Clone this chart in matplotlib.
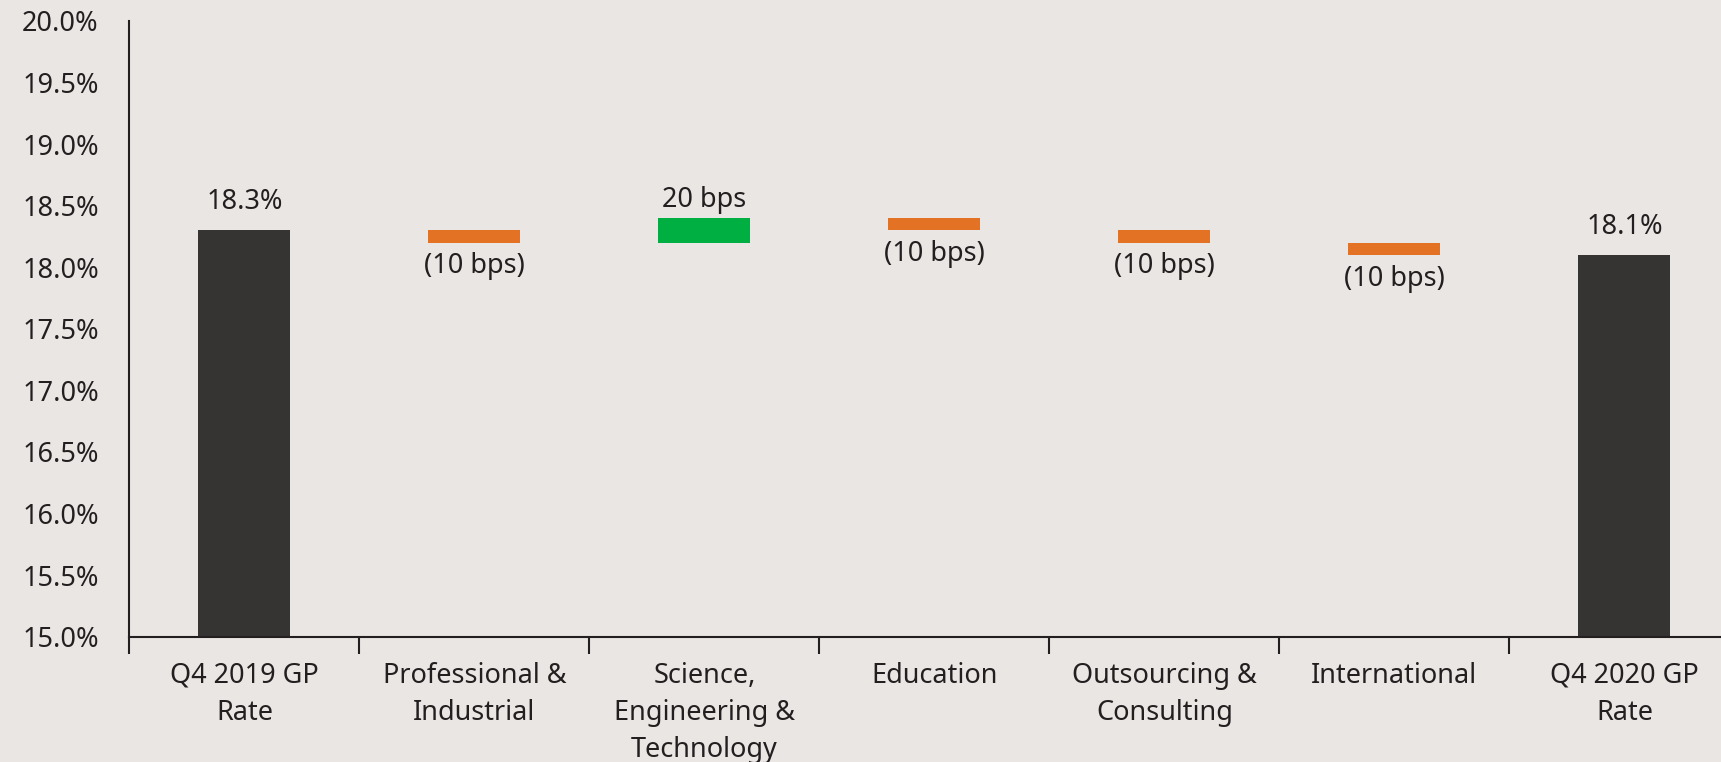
import matplotlib.pyplot as plt
import numpy as np

# Data
categories = ["Q4 2019 GP\nRate", "Professional &\nIndustrial", "Science,\nEngineering &\nTechnology",
              "Education", "Outsourcing &\nConsulting", "International", "Q4 2020 GP\nRate"]
start_rate = 18.3
end_rate = 18.1
deltas_bps = np.array([-10, 20, -10, -10, -10])

bg = "#E9E6E3"
dark = "#353432"
orange = "#E37224"
green = "#00AF41"
txt = "#231F20"
fs = 19.5

plt.rcParams['font.family'] = ['Noto Sans', 'DejaVu Sans']

fig = plt.figure(figsize=(17.21, 7.62), dpi=100, facecolor=bg)
ax = fig.add_axes([0.0752, 0.1646, 0.9355, 0.808])
ax.set_facecolor(bg)

x = np.arange(len(categories))
w = 0.4

# start / end bars
ax.bar([x[0], x[-1]], [start_rate, end_rate], width=w, color=dark, bottom=0, zorder=2)
for xi, v in [(x[0], start_rate), (x[-1], end_rate)]:
    ax.annotate(f"{v:.1f}%", (xi, v), xytext=(0, 10), textcoords="offset points",
                ha="center", va="bottom", fontsize=fs, color=txt)

# floating delta bars
level = start_rate
for i, d in enumerate(deltas_bps):
    xi = x[i + 1]
    change = d / 100
    lo = min(level, level + change)
    color = green if d > 0 else orange
    ax.bar(xi, abs(change), bottom=lo, width=w, color=color, zorder=2)
    if d > 0:
        ax.annotate(f"{d} bps", (xi, lo + abs(change)), xytext=(0, 3), textcoords="offset points",
                    ha="center", va="bottom", fontsize=fs, color=txt)
    else:
        ax.annotate(f"({abs(d)} bps)", (xi, lo), xytext=(0, -7), textcoords="offset points",
                    ha="center", va="top", fontsize=fs, color=txt)
    level += change

ax.set_ylim(15, 20)
ax.set_xlim(-0.5, len(categories) - 0.5)
ax.set_yticks(np.arange(15, 20.01, 0.5))
ax.set_yticklabels([f"{v:.1f}%" for v in np.arange(15, 20.01, 0.5)], fontsize=fs, color=txt)
ax.tick_params(axis="y", length=0, pad=22)

ax.set_xticks(x)
ax.set_xticklabels(categories, fontsize=fs, color=txt, linespacing=1.45, va="top")
ax.tick_params(axis="x", which="major", length=0, pad=18)
ax.set_xticks(np.arange(-0.5, len(categories), 1), minor=True)
ax.tick_params(axis="x", which="minor", length=12, width=1.5, color=txt, direction="out")

for s in ["top", "right"]:
    ax.spines[s].set_visible(False)
for s in ["left", "bottom"]:
    ax.spines[s].set_color(txt)
    ax.spines[s].set_linewidth(1.5)

plt.savefig("out.png", dpi=100, facecolor=bg)
